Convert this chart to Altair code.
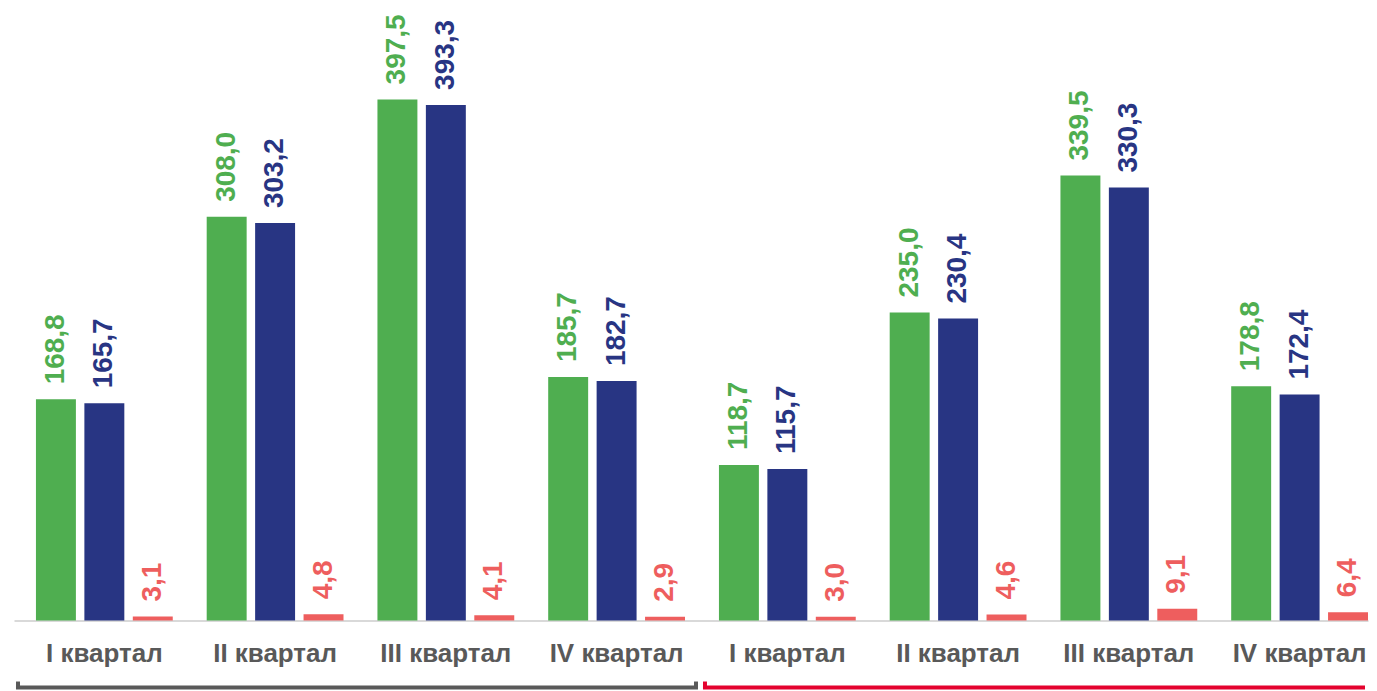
import altair as alt
import pandas as pd

quarters = ["I квартал", "II квартал", "III квартал", "IV квартал",
            "I квартал", "II квартал", "III квартал", "IV квартал"]
green_vals = [168.8, 308.0, 397.5, 185.7, 118.7, 235.0, 339.5, 178.8]
navy_vals = [165.7, 303.2, 393.3, 182.7, 115.7, 230.4, 330.3, 172.4]
red_vals = [3.1, 4.8, 4.1, 2.9, 3.0, 4.6, 9.1, 6.4]
series = ["s1", "s2", "s3"]
colors = ["#4FAE50", "#283583", "#EE5E5E"]

keys = [f"{i}|{q}" for i, q in enumerate(quarters)]
rows = []
for k, g, n, r in zip(keys, green_vals, navy_vals, red_vals):
    for s, v in zip(series, (g, n, r)):
        rows.append({"key": k, "series": s, "value": v,
                     "label": f"{v:.1f}".replace(".", ",")})
df = pd.DataFrame(rows)

FONT = "Liberation Sans, Arial, sans-serif"
xscale = alt.Scale(domain=keys, paddingInner=0.1988, paddingOuter=0.0643, align=1)
xaxis = alt.Axis(title=None, labelExpr="split(datum.label, '|')[1]", ticks=False,
                 domainColor="#d9d9d9", domainWidth=2, labelFont=FONT,
                 labelFontSize=26, labelFontWeight="bold", labelColor="#595959",
                 labelPadding=20, labelAngle=0)
yscale = alt.Scale(domain=[0, 463])
cscale = alt.Scale(domain=series, range=colors)

base = alt.Chart(df).encode(
    x=alt.X("key:N", scale=xscale, axis=xaxis),
    xOffset=alt.XOffset("series:N", sort=series,
                        scale=alt.Scale(paddingInner=0.175, paddingOuter=0)),
    y=alt.Y("value:Q", scale=yscale, axis=None),
    color=alt.Color("series:N", scale=cscale, legend=None),
)
bars = base.mark_bar()
texts = base.mark_text(angle=270, align="left", baseline="middle", dx=15,
                       fontSize=28, fontWeight="bold", font=FONT).encode(text="label:N")

br_df = pd.DataFrame({"start": [keys[0], keys[4]], "end": [keys[3], keys[7]]})
BR_Y = 675


def bracket(i, color, off1, off2):
    d = br_df.iloc[[i]]
    return alt.Chart(d).mark_rule(strokeWidth=4, color=color, xOffset=off1,
                                  x2Offset=off2).encode(
        x=alt.X("start:N", scale=xscale, axis=xaxis, bandPosition=0.5),
        x2="end:N",
        y=alt.value(BR_Y),
    )


def hook(i, field, color, off):
    d = br_df.iloc[[i]]
    return alt.Chart(d).mark_rule(strokeWidth=4, color=color, xOffset=off).encode(
        x=alt.X(f"{field}:N", scale=xscale, axis=xaxis, bandPosition=0.5),
        y=alt.value(BR_Y - 6),
        y2=alt.value(BR_Y),
    )


chart = alt.layer(
    bars, texts,
    bracket(0, "#595959", -88.5, 81.5),
    bracket(1, "#E4032E", -84.5, 65.5),
    hook(0, "start", "#595959", -86.5),
    hook(0, "end", "#595959", 79.5),
    hook(1, "start", "#E4032E", -82.5),
).properties(
    width=1356, height=608,
    padding={"left": 5, "top": 5, "right": 0, "bottom": 0},
).configure_view(stroke=None)

chart.save("out.html", embed_options={"renderer": "svg", "actions": False})
